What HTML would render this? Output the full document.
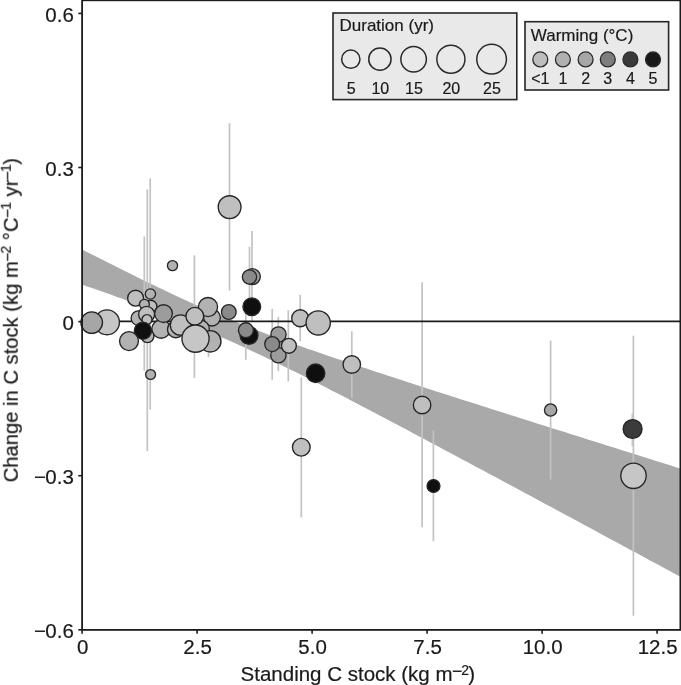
<!DOCTYPE html>
<html><head><meta charset="utf-8"><style>
html,body{margin:0;padding:0;background:#fff;}
svg{display:block;}
text{font-family:"Liberation Sans",sans-serif;fill:#1a1a1a;stroke:#1a1a1a;stroke-width:0.2px;}
.g{opacity:0.999;}
</style></head><body>
<svg width="681" height="685" viewBox="0 0 681 685" font-size="20"><g class="g">
<defs><clipPath id="pc"><rect x="70" y="0" width="610" height="630"/></clipPath></defs>
<g clip-path="url(#pc)">
<polygon points="82.0,249.5 87.0,252.0 92.0,254.6 97.0,257.1 102.0,259.6 107.0,262.1 111.9,264.6 116.9,267.1 121.9,269.6 126.9,272.1 131.9,274.6 136.9,277.0 141.9,279.5 146.9,281.9 151.9,284.3 156.9,286.7 161.9,289.1 166.9,291.5 171.8,293.8 176.8,296.2 181.8,298.5 186.8,300.8 191.8,303.0 196.8,305.3 201.8,307.5 206.8,309.7 211.8,311.9 216.8,314.0 221.8,316.1 226.8,318.2 231.8,320.3 236.7,322.3 241.7,324.3 246.7,326.3 251.7,328.2 256.7,330.2 261.7,332.1 266.7,333.9 271.7,335.8 276.7,337.7 281.7,339.5 286.7,341.3 291.6,343.1 296.6,344.9 301.6,346.6 306.6,348.4 311.6,350.1 316.6,351.8 321.6,353.6 326.6,355.3 331.6,357.0 336.6,358.7 341.6,360.3 346.6,362.0 351.5,363.7 356.5,365.3 361.5,367.0 366.5,368.6 371.5,370.3 376.5,371.9 381.5,373.6 386.5,375.2 391.5,376.8 396.5,378.5 401.5,380.1 406.5,381.7 411.4,383.3 416.4,384.9 421.4,386.5 426.4,388.2 431.4,389.8 436.4,391.4 441.4,393.0 446.4,394.6 451.4,396.2 456.4,397.8 461.4,399.4 466.4,401.0 471.3,402.6 476.3,404.1 481.3,405.7 486.3,407.3 491.3,408.9 496.3,410.5 501.3,412.1 506.3,413.7 511.3,415.3 516.3,416.8 521.3,418.4 526.3,420.0 531.2,421.6 536.2,423.2 541.2,424.7 546.2,426.3 551.2,427.9 556.2,429.5 561.2,431.0 566.2,432.6 571.2,434.2 576.2,435.8 581.2,437.3 586.2,438.9 591.1,440.5 596.1,442.1 601.1,443.6 606.1,445.2 611.1,446.8 616.1,448.3 621.1,449.9 626.1,451.5 631.1,453.1 636.1,454.6 641.1,456.2 646.1,457.8 651.0,459.3 656.0,460.9 661.0,462.5 666.0,464.0 671.0,465.6 676.0,467.2 681.0,468.7 681.0,577.1 676.0,574.4 671.0,571.7 666.0,569.0 661.0,566.3 656.0,563.6 651.0,560.9 646.1,558.2 641.1,555.5 636.1,552.8 631.1,550.2 626.1,547.5 621.1,544.8 616.1,542.1 611.1,539.4 606.1,536.7 601.1,534.0 596.1,531.3 591.1,528.6 586.2,525.9 581.2,523.2 576.2,520.5 571.2,517.8 566.2,515.2 561.2,512.5 556.2,509.8 551.2,507.1 546.2,504.4 541.2,501.7 536.2,499.0 531.2,496.3 526.3,493.7 521.3,491.0 516.3,488.3 511.3,485.6 506.3,482.9 501.3,480.3 496.3,477.6 491.3,474.9 486.3,472.2 481.3,469.5 476.3,466.9 471.3,464.2 466.4,461.5 461.4,458.9 456.4,456.2 451.4,453.5 446.4,450.9 441.4,448.2 436.4,445.5 431.4,442.9 426.4,440.2 421.4,437.6 416.4,434.9 411.4,432.3 406.5,429.6 401.5,427.0 396.5,424.3 391.5,421.7 386.5,419.1 381.5,416.4 376.5,413.8 371.5,411.2 366.5,408.6 361.5,405.9 356.5,403.3 351.5,400.7 346.6,398.1 341.6,395.5 336.6,393.0 331.6,390.4 326.6,387.8 321.6,385.3 316.6,382.7 311.6,380.2 306.6,377.7 301.6,375.1 296.6,372.6 291.6,370.2 286.7,367.7 281.7,365.2 276.7,362.8 271.7,360.4 266.7,358.0 261.7,355.6 256.7,353.2 251.7,350.9 246.7,348.6 241.7,346.3 236.7,344.0 231.8,341.8 226.8,339.6 221.8,337.4 216.8,335.3 211.8,333.2 206.8,331.1 201.8,329.0 196.8,327.0 191.8,324.9 186.8,322.9 181.8,321.0 176.8,319.0 171.8,317.1 166.9,315.2 161.9,313.3 156.9,311.4 151.9,309.5 146.9,307.7 141.9,305.9 136.9,304.0 131.9,302.2 126.9,300.4 121.9,298.6 116.9,296.9 111.9,295.1 107.0,293.3 102.0,291.6 97.0,289.8 92.0,288.1 87.0,286.4 82.0,284.6" fill="#a9a9a9"/>
<line x1="144.3" y1="236.5" x2="144.3" y2="370.8" stroke="#c3c3c3" stroke-width="1.7"/>
<line x1="147.3" y1="189.6" x2="147.3" y2="451.3" stroke="#c3c3c3" stroke-width="1.7"/>
<line x1="150.2" y1="178.4" x2="150.2" y2="409.6" stroke="#c3c3c3" stroke-width="1.7"/>
<line x1="194.4" y1="255.3" x2="194.4" y2="378.0" stroke="#c3c3c3" stroke-width="1.7"/>
<line x1="208.5" y1="330" x2="208.5" y2="357" stroke="#c3c3c3" stroke-width="1.7"/>
<line x1="229.5" y1="123.3" x2="229.5" y2="290.6" stroke="#c3c3c3" stroke-width="1.7"/>
<line x1="245.8" y1="300" x2="245.8" y2="359.8" stroke="#c3c3c3" stroke-width="1.7"/>
<line x1="249.5" y1="246.8" x2="249.5" y2="300" stroke="#c3c3c3" stroke-width="1.7"/>
<line x1="252.0" y1="230.9" x2="252.0" y2="322" stroke="#c3c3c3" stroke-width="1.7"/>
<line x1="272.2" y1="308.9" x2="272.2" y2="379.8" stroke="#c3c3c3" stroke-width="1.7"/>
<line x1="278.3" y1="317.1" x2="278.3" y2="371.0" stroke="#c3c3c3" stroke-width="1.7"/>
<line x1="288.3" y1="310.3" x2="288.3" y2="381.5" stroke="#c3c3c3" stroke-width="1.7"/>
<line x1="300.2" y1="294.9" x2="300.2" y2="341.3" stroke="#c3c3c3" stroke-width="1.7"/>
<line x1="301.3" y1="377.4" x2="301.3" y2="517.3" stroke="#c3c3c3" stroke-width="1.7"/>
<line x1="351.8" y1="331.3" x2="351.8" y2="397.9" stroke="#c3c3c3" stroke-width="1.7"/>
<line x1="422.1" y1="282.3" x2="422.1" y2="527.3" stroke="#c3c3c3" stroke-width="1.7"/>
<line x1="433.4" y1="430.5" x2="433.4" y2="541.2" stroke="#c3c3c3" stroke-width="1.7"/>
<line x1="550.6" y1="340.5" x2="550.6" y2="479.5" stroke="#c3c3c3" stroke-width="1.7"/>
<line x1="632.4" y1="413.4" x2="632.4" y2="446.2" stroke="#c3c3c3" stroke-width="1.7"/>
<line x1="633.4" y1="335.8" x2="633.4" y2="615.8" stroke="#c3c3c3" stroke-width="1.7"/>
<line x1="82" y1="321.4" x2="680" y2="321.4" stroke="#1c1c1c" stroke-width="1.8"/>
<circle cx="107.0" cy="322.3" r="12.45" fill="#c6c6c6" stroke="#262626" stroke-width="1.35"/>
<circle cx="91.7" cy="322.6" r="10.80" fill="#a6a6a6" stroke="#262626" stroke-width="1.35"/>
<circle cx="138.5" cy="318.2" r="7.35" fill="#b2b2b2" stroke="#262626" stroke-width="1.35"/>
<circle cx="135.6" cy="298.2" r="7.95" fill="#bfbfbf" stroke="#262626" stroke-width="1.35"/>
<circle cx="150.8" cy="306.3" r="6.05" fill="#bfbfbf" stroke="#262626" stroke-width="1.35"/>
<circle cx="150.4" cy="294.0" r="5.15" fill="#b2b2b2" stroke="#262626" stroke-width="1.35"/>
<circle cx="144.4" cy="304.3" r="4.95" fill="#b2b2b2" stroke="#262626" stroke-width="1.35"/>
<circle cx="161.1" cy="329.0" r="9.25" fill="#b2b2b2" stroke="#262626" stroke-width="1.35"/>
<circle cx="146.6" cy="314.4" r="7.95" fill="#bfbfbf" stroke="#262626" stroke-width="1.35"/>
<circle cx="163.5" cy="313.6" r="8.85" fill="#9c9c9c" stroke="#262626" stroke-width="1.35"/>
<circle cx="147.5" cy="336.1" r="6.45" fill="#b2b2b2" stroke="#262626" stroke-width="1.35"/>
<circle cx="147.0" cy="319.6" r="4.95" fill="#bfbfbf" stroke="#262626" stroke-width="1.35"/>
<circle cx="142.9" cy="330.8" r="8.55" fill="#0f0f0f" stroke="#262626" stroke-width="1.35"/>
<circle cx="129.0" cy="341.1" r="9.45" fill="#b2b2b2" stroke="#262626" stroke-width="1.35"/>
<circle cx="175.8" cy="329.4" r="8.35" fill="#b2b2b2" stroke="#262626" stroke-width="1.35"/>
<circle cx="180.5" cy="325.0" r="10.20" fill="#bfbfbf" stroke="#262626" stroke-width="1.35"/>
<circle cx="212.0" cy="317.6" r="8.35" fill="#b2b2b2" stroke="#262626" stroke-width="1.35"/>
<circle cx="200.8" cy="328.8" r="8.55" fill="#b2b2b2" stroke="#262626" stroke-width="1.35"/>
<circle cx="208.0" cy="307.0" r="9.55" fill="#b2b2b2" stroke="#262626" stroke-width="1.35"/>
<circle cx="194.8" cy="316.3" r="8.85" fill="#bfbfbf" stroke="#262626" stroke-width="1.35"/>
<circle cx="210.3" cy="341.3" r="10.70" fill="#b2b2b2" stroke="#262626" stroke-width="1.35"/>
<circle cx="195.5" cy="338.6" r="13.60" fill="#c6c6c6" stroke="#262626" stroke-width="1.35"/>
<circle cx="228.8" cy="312.0" r="7.35" fill="#8a8a8a" stroke="#262626" stroke-width="1.35"/>
<circle cx="251.8" cy="306.8" r="8.85" fill="#0f0f0f" stroke="#262626" stroke-width="1.35"/>
<circle cx="249.0" cy="335.4" r="8.95" fill="#0f0f0f" stroke="#262626" stroke-width="1.35"/>
<circle cx="245.9" cy="330.2" r="7.45" fill="#8a8a8a" stroke="#262626" stroke-width="1.35"/>
<circle cx="229.6" cy="207.1" r="11.40" fill="#bfbfbf" stroke="#262626" stroke-width="1.35"/>
<circle cx="252.4" cy="276.6" r="7.95" fill="#9c9c9c" stroke="#262626" stroke-width="1.35"/>
<circle cx="249.5" cy="277.0" r="7.15" fill="#8a8a8a" stroke="#262626" stroke-width="1.35"/>
<circle cx="172.5" cy="265.6" r="5.05" fill="#b2b2b2" stroke="#262626" stroke-width="1.35"/>
<circle cx="150.6" cy="374.5" r="4.95" fill="#b2b2b2" stroke="#262626" stroke-width="1.35"/>
<circle cx="300.2" cy="318.2" r="8.50" fill="#bfbfbf" stroke="#262626" stroke-width="1.35"/>
<circle cx="318.2" cy="322.9" r="12.10" fill="#bfbfbf" stroke="#262626" stroke-width="1.35"/>
<circle cx="278.5" cy="334.5" r="7.65" fill="#9c9c9c" stroke="#262626" stroke-width="1.35"/>
<circle cx="278.4" cy="355.3" r="7.65" fill="#9c9c9c" stroke="#262626" stroke-width="1.35"/>
<circle cx="272.2" cy="344.1" r="7.45" fill="#8a8a8a" stroke="#262626" stroke-width="1.35"/>
<circle cx="288.9" cy="345.8" r="7.45" fill="#bfbfbf" stroke="#262626" stroke-width="1.35"/>
<circle cx="315.6" cy="373.2" r="9.25" fill="#0f0f0f" stroke="#262626" stroke-width="1.35"/>
<circle cx="351.8" cy="364.5" r="8.75" fill="#bfbfbf" stroke="#262626" stroke-width="1.35"/>
<circle cx="301.3" cy="447.2" r="8.85" fill="#bfbfbf" stroke="#262626" stroke-width="1.35"/>
<circle cx="422.1" cy="405.0" r="8.75" fill="#bfbfbf" stroke="#262626" stroke-width="1.35"/>
<circle cx="433.5" cy="486.0" r="6.45" fill="#0f0f0f" stroke="#262626" stroke-width="1.35"/>
<circle cx="550.6" cy="410.0" r="6.15" fill="#a6a6a6" stroke="#262626" stroke-width="1.35"/>
<circle cx="632.6" cy="429.0" r="9.45" fill="#3b3b3b" stroke="#262626" stroke-width="1.35"/>
<circle cx="633.5" cy="475.8" r="12.70" fill="#c6c6c6" stroke="#262626" stroke-width="1.35"/>
</g>
<rect x="82.1" y="0.3" width="598.3" height="629.6" fill="none" stroke="#1c1c1c" stroke-width="1.8"/>
<line x1="78.3" y1="13.4" x2="82" y2="13.4" stroke="#1c1c1c" stroke-width="1.6"/>
<text x="73.8" y="21.6" text-anchor="end" font-size="20.5">0.6</text>
<line x1="78.3" y1="167.5" x2="82" y2="167.5" stroke="#1c1c1c" stroke-width="1.6"/>
<text x="73.8" y="175.7" text-anchor="end" font-size="20.5">0.3</text>
<line x1="78.3" y1="321.6" x2="82" y2="321.6" stroke="#1c1c1c" stroke-width="1.6"/>
<text x="73.8" y="329.8" text-anchor="end" font-size="20.5">0</text>
<line x1="78.3" y1="475.7" x2="82" y2="475.7" stroke="#1c1c1c" stroke-width="1.6"/>
<text x="73.8" y="483.9" text-anchor="end" font-size="20.5">−<tspan dx="-0.8">0.3</tspan></text>
<line x1="78.3" y1="629.8" x2="82" y2="629.8" stroke="#1c1c1c" stroke-width="1.6"/>
<text x="73.8" y="638.0" text-anchor="end" font-size="20.5">−<tspan dx="-0.8">0.6</tspan></text>
<line x1="82.1" y1="630" x2="82.1" y2="633.7" stroke="#1c1c1c" stroke-width="1.6"/>
<text x="82.6" y="654.3" text-anchor="middle" font-size="20.5">0</text>
<line x1="197.1" y1="630" x2="197.1" y2="633.7" stroke="#1c1c1c" stroke-width="1.6"/>
<text x="197.6" y="654.3" text-anchor="middle" font-size="20.5">2.5</text>
<line x1="312.1" y1="630" x2="312.1" y2="633.7" stroke="#1c1c1c" stroke-width="1.6"/>
<text x="312.6" y="654.3" text-anchor="middle" font-size="20.5">5.0</text>
<line x1="427.1" y1="630" x2="427.1" y2="633.7" stroke="#1c1c1c" stroke-width="1.6"/>
<text x="427.6" y="654.3" text-anchor="middle" font-size="20.5">7.5</text>
<line x1="542.1" y1="630" x2="542.1" y2="633.7" stroke="#1c1c1c" stroke-width="1.6"/>
<text x="542.6" y="654.3" text-anchor="middle" font-size="20.5">10.0</text>
<line x1="657.1" y1="630" x2="657.1" y2="633.7" stroke="#1c1c1c" stroke-width="1.6"/>
<text x="657.6" y="654.3" text-anchor="middle" font-size="20.5">12.5</text>
<rect x="333" y="13" width="183.8" height="86.6" fill="#e9e9e9" stroke="#262626" stroke-width="1.6"/>
<text x="339.5" y="31" font-size="17">Duration (yr)</text>
<circle cx="350.8" cy="59.2" r="9.15" fill="none" stroke="#2a2a2a" stroke-width="1.5"/>
<text x="351.2" y="93.6" font-size="16" text-anchor="middle">5</text>
<circle cx="379.9" cy="59.2" r="11.15" fill="none" stroke="#2a2a2a" stroke-width="1.5"/>
<text x="380.29999999999995" y="93.6" font-size="16" text-anchor="middle">10</text>
<circle cx="413.6" cy="59.2" r="12.75" fill="none" stroke="#2a2a2a" stroke-width="1.5"/>
<text x="414.0" y="93.6" font-size="16" text-anchor="middle">15</text>
<circle cx="450.9" cy="59.2" r="14.05" fill="none" stroke="#2a2a2a" stroke-width="1.5"/>
<text x="451.29999999999995" y="93.6" font-size="16" text-anchor="middle">20</text>
<circle cx="491.6" cy="59.2" r="14.85" fill="none" stroke="#2a2a2a" stroke-width="1.5"/>
<text x="492.0" y="93.6" font-size="16" text-anchor="middle">25</text>
<rect x="525" y="21.7" width="143.6" height="68.3" fill="#e9e9e9" stroke="#262626" stroke-width="1.6"/>
<text x="530.8" y="40.6" font-size="17">Warming (°C)</text>
<circle cx="540.3" cy="59.4" r="7.45" fill="#bdbdbd" stroke="#2a2a2a" stroke-width="1.3"/>
<text x="540.3" y="84.2" font-size="16" text-anchor="middle">&lt;1</text>
<circle cx="562.9" cy="59.4" r="7.45" fill="#b0b0b0" stroke="#2a2a2a" stroke-width="1.3"/>
<text x="562.9" y="84.2" font-size="16" text-anchor="middle">1</text>
<circle cx="585.6" cy="59.4" r="7.45" fill="#a6a6a6" stroke="#2a2a2a" stroke-width="1.3"/>
<text x="585.6" y="84.2" font-size="16" text-anchor="middle">2</text>
<circle cx="607.8" cy="59.4" r="7.45" fill="#7e7e7e" stroke="#2a2a2a" stroke-width="1.3"/>
<text x="607.8" y="84.2" font-size="16" text-anchor="middle">3</text>
<circle cx="630.4" cy="59.4" r="7.45" fill="#3a3a3a" stroke="#2a2a2a" stroke-width="1.3"/>
<text x="630.4" y="84.2" font-size="16" text-anchor="middle">4</text>
<circle cx="653.0" cy="59.4" r="7.45" fill="#181818" stroke="#2a2a2a" stroke-width="1.3"/>
<text x="653.0" y="84.2" font-size="16" text-anchor="middle">5</text>
<text x="240.6" y="680.6" font-size="20.5">Standing C stock (kg m<tspan dy="-4" dx="-0.6" font-size="17.5">−</tspan><tspan dy="-2" dx="-0.8" font-size="14">2</tspan><tspan dy="6" dx="-1">)</tspan></text>
<text transform="translate(17.8,482.3) rotate(-90)" font-size="20.2">Change in C stock (kg m<tspan dy="-4.8" dx="-0.6" font-size="15.5">−</tspan><tspan dy="-2.2" dx="-0.8" font-size="14">2</tspan><tspan dy="7"> °C</tspan><tspan dy="-4.8" dx="-0.6" font-size="15.5">−</tspan><tspan dy="-2.2" dx="-0.8" font-size="14">1</tspan><tspan dy="7"> yr</tspan><tspan dy="-4.8" dx="-0.6" font-size="15.5">−</tspan><tspan dy="-2.2" dx="-0.8" font-size="14">1</tspan><tspan dy="7" dx="-0.5">)</tspan></text>
</g></svg>
</body></html>
